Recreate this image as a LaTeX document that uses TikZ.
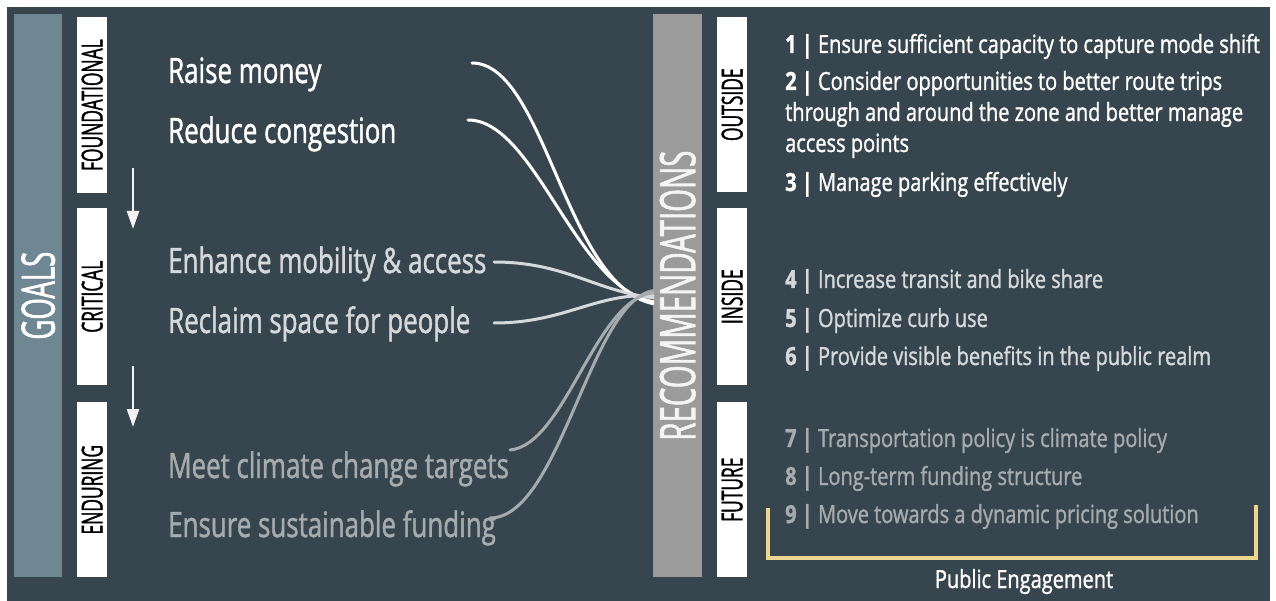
\documentclass[tikz,border=0pt]{standalone}
\usepackage{fontspec}
\setmainfont{Open Sans}[FakeStretch=0.74, FakeBold=1.2]
\newfontfamily\lblfont{Open Sans}[FakeStretch=0.6, FakeBold=1.2]
\newfontfamily\recfont{Open Sans}[FakeStretch=0.8, FakeBold=1.2]
\usetikzlibrary{arrows.meta}
\definecolor{bgdark}{HTML}{37454E}
\definecolor{goalbar}{HTML}{6F8793}
\definecolor{recbar}{HTML}{9B9B9C}
\definecolor{midgrey}{HTML}{D5D9DC}
\definecolor{lowgrey}{HTML}{A6ABAE}
\definecolor{bracketyellow}{HTML}{EED690}
\tikzset{
  bigbar/.style={inner sep=0, anchor=north west, minimum width=48},
  lblbox/.style={fill=white, inner sep=0, anchor=north west, minimum width=30},
  lbltext/.style={rotate=90, text=black, inner sep=0, font=\lblfont\fontsize{29}{30}\selectfont},
  bartext/.style={rotate=90, inner sep=0, font=\lblfont\fontsize{46}{48}\selectfont},
  goaltext/.style={anchor=base west, inner sep=0, font=\fontsize{35}{40}\selectfont},
  rectext/.style={anchor=base west, inner sep=0, font=\recfont\fontsize{25}{28}\selectfont},
  flow/.style={line width=3, line cap=round},
  steparrow/.style={draw=white!90!gray, line width=2.5, -{Triangle[width=12,length=18]}},
}
\begin{document}
\begin{tikzpicture}[x=1pt,y=-1pt]
\fill[white] (0,0) rectangle (1276,601);
\useasboundingbox (0,0) rectangle (1276,601);
\fill[bgdark] (7,7) rectangle (1270,601);

% left bars
\node[bigbar, fill=goalbar, minimum height=563] (goalsbar) at (14,14) {};
\node[bartext, text=white] (goalslbl) at (goalsbar.center) {GOALS};
\node[lblbox, minimum height=176] (foundbox) at (77,17) {};
\node[lbltext] (foundlbl) at (foundbox.center) {FOUNDATIONAL};
\node[lblbox, minimum height=177] (critbox) at (77,208) {};
\node[lbltext] (critlbl) at (critbox.center) {CRITICAL};
\node[lblbox, minimum height=175] (endbox) at (77,402) {};
\node[lbltext] (endlbl) at (endbox.center) {ENDURING};

\coordinate (a1s) at (133,168);
\coordinate (a1e) at (133,229);
\coordinate (a2s) at (133,366);
\coordinate (a2e) at (133,427);
\draw[steparrow] (a1s) -- (a1e);
\draw[steparrow] (a2s) -- (a2e);

% goals
\node[goaltext, text=white] (g1) at (168,83) {Raise money};
\node[goaltext, text=white] (g2) at (168,143) {Reduce congestion};
\node[goaltext, text=midgrey] (g3) at (168,273) {Enhance mobility \& access};
\node[goaltext, text=midgrey] (g4) at (168,333) {Reclaim space for people};
\node[goaltext, text=lowgrey] (g5) at (168,478) {Meet climate change targets};
\node[goaltext, text=lowgrey] (g6) at (168,537) {Ensure sustainable funding};

% recommendations bar
\node[bigbar, fill=recbar, minimum height=563, minimum width=49] (recbar) at (653,14) {};
\node[bartext, text=white!92!gray, font=\lblfont\fontsize{49}{50}\selectfont] (reclbl) at (recbar.center) {RECOMMENDATIONS};

% connectors
\coordinate (s1) at (472,63);
\coordinate (s2) at (468,120);
\coordinate (s3) at (494,262);
\coordinate (s4) at (494,323);
\coordinate (s5) at (510,450);
\coordinate (s6) at (490,518);
\coordinate (h1) at ([yshift=-8]recbar.west);
\coordinate (h2) at ([yshift=-6]recbar.west);
\coordinate (h3) at ([yshift=-2]recbar.west);
\coordinate (h4) at ([yshift=0]recbar.west);
\coordinate (h5) at ([yshift=3]recbar.west);
\coordinate (h6) at ([yshift=5]recbar.west);
\draw[flow, white] (s1) .. controls (545,63) and (565,285) .. (h1);
\draw[flow, white] (s2) .. controls (535,120) and (575,287) .. (h2);
\draw[flow, midgrey] (s3) .. controls (565,262) and (595,291) .. (h3);
\draw[flow, midgrey] (s4) .. controls (565,323) and (595,293) .. (h4);
\draw[flow, lowgrey] (s5) .. controls (565,445) and (595,300) .. (h5);
\draw[flow, lowgrey] (s6) .. controls (560,518) and (590,302) .. (h6);

% right label boxes
\node[lblbox, minimum height=175] (outbox) at (717,17) {};
\node[lbltext] (outlbl) at (outbox.center) {OUTSIDE};
\node[lblbox, minimum height=177] (inbox) at (717,208) {};
\node[lbltext] (inlbl) at (inbox.center) {INSIDE};
\node[lblbox, minimum height=175] (futbox) at (717,402) {};
\node[lbltext] (futlbl) at (futbox.center) {FUTURE};

% recommendations text
\node[rectext, text=white] (r1) at (785,53) {\textbf{1 |} Ensure sufficient capacity to capture mode shift};
\node[rectext, text=white] (r2a) at (785,90) {\textbf{2 |} Consider opportunities to better route trips};
\node[rectext, text=white] (r2b) at (785,121) {through and around the zone and better manage};
\node[rectext, text=white] (r2c) at (785,152) {access points};
\node[rectext, text=white] (r3) at (785,191) {\textbf{3 |} Manage parking effectively};
\node[rectext, text=midgrey] (r4) at (785,288) {\textbf{4 |} Increase transit and bike share};
\node[rectext, text=midgrey] (r5) at (785,327) {\textbf{5 |} Optimize curb use};
\node[rectext, text=midgrey] (r6) at (785,365) {\textbf{6 |} Provide visible benefits in the public realm};
\node[rectext, text=lowgrey] (r7) at (785,447) {\textbf{7 |} Transportation policy is climate policy};
\node[rectext, text=lowgrey] (r8) at (785,485) {\textbf{8 |} Long-term funding structure};
\node[rectext, text=lowgrey] (r9) at (785,523) {\textbf{9 |} Move towards a dynamic pricing solution};

% public engagement bracket
\coordinate (b1) at (768,508);
\coordinate (b2) at (768,558);
\coordinate (b3) at (1256,558);
\coordinate (b4) at (1256,505);
\draw[bracketyellow, line width=4] (b1) -- (b2) -- (b3) -- (b4);
\node[anchor=base, inner sep=0, text=white, font=\recfont\fontsize{25}{28}\selectfont] (pe) at (1024,588) {Public Engagement};
\end{tikzpicture}
\end{document}
